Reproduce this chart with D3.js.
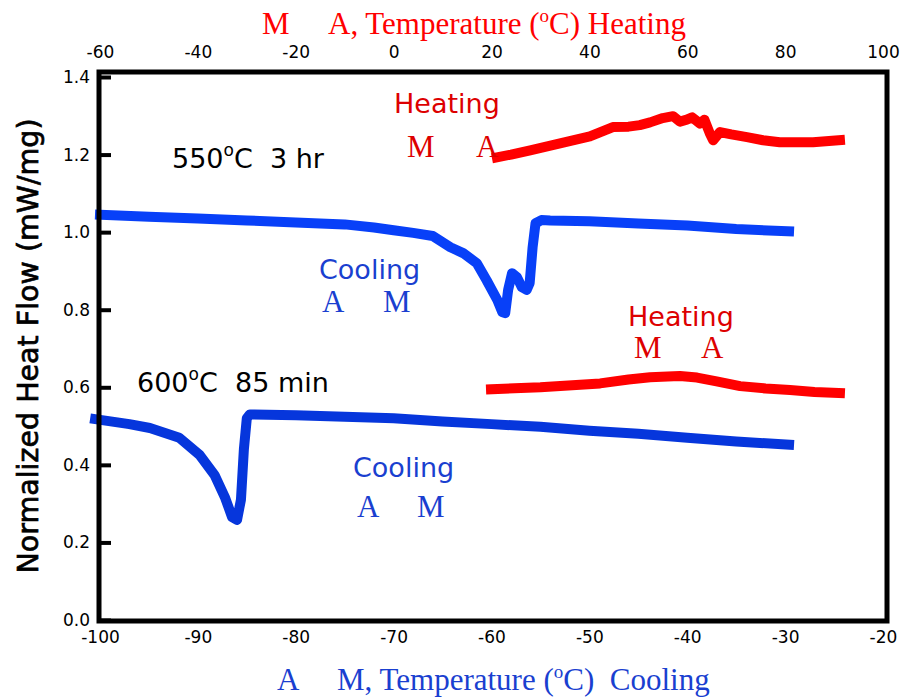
<!DOCTYPE html>
<html>
<head>
<meta charset="utf-8">
<script src="https://cdn.jsdelivr.net/npm/d3@7"></script>
<style>
  body { margin: 0; background: #fff; }
  .tick text { font-family: "DejaVu Sans", Verdana, sans-serif; font-size: 17px; fill: #000; }
  .sans { font-family: "DejaVu Sans", Verdana, sans-serif; }
  .serif { font-family: "Liberation Serif", "Times New Roman", serif; }
</style>
</head>
<body>
<svg id="chart_svg" width="913" height="699"></svg>
<script>
// cooling runs are read on the bottom axis, heating runs on the top axis
var cool550T = [-100, -95, -90, -85, -80, -75, -72, -70, -68, -66, -64.2, -62.9, -61.5, -60.5, -59.4, -58.9, -58.6, -58.3, -57.9, -57.4, -56.9, -56.4, -56.1, -55.8, -55.5, -54.9, -54, -50, -45, -40, -35, -29.6];
var cool550Q = [1.045, 1.04, 1.035, 1.03, 1.025, 1.02, 1.012, 1.005, 0.998, 0.99, 0.961, 0.946, 0.92, 0.876, 0.825, 0.794, 0.791, 0.851, 0.894, 0.884, 0.858, 0.851, 0.869, 0.961, 1.023, 1.031, 1.03, 1.028, 1.022, 1.017, 1.008, 1.002];

var heat550T = [21.1, 24, 27.9, 34, 40.1, 44.8, 48, 50.3, 52.4, 55, 57.1, 58.5, 59.9, 61, 62.6, 63.5, 64.6, 65.3, 66.7, 69, 72.2, 75.5, 78.9, 85.7, 91.2];
var heat550Q = [1.193, 1.2, 1.211, 1.229, 1.247, 1.271, 1.272, 1.276, 1.283, 1.294, 1.299, 1.285, 1.29, 1.296, 1.28, 1.29, 1.255, 1.237, 1.258, 1.252, 1.245, 1.237, 1.232, 1.232, 1.237];

var cool600T = [-100.5, -97, -94.9, -91.9, -89.8, -88.3, -87.2, -86.5, -86.0, -85.6, -85.3, -85.0, -84.7, -80, -75, -70, -65, -60, -55, -50, -45, -40, -35, -29.6];
var cool600Q = [0.518, 0.505, 0.495, 0.47, 0.425, 0.374, 0.314, 0.265, 0.258, 0.31, 0.44, 0.52, 0.53, 0.528, 0.524, 0.52, 0.512, 0.505, 0.498, 0.488, 0.48, 0.47, 0.46, 0.452];

var heat600T = [19.9, 30, 42.2, 48, 52.4, 56, 58.5, 62, 66, 70.8, 76, 81, 86, 91.2];
var heat600Q = [0.595, 0.6, 0.61, 0.62, 0.626, 0.628, 0.629, 0.625, 0.615, 0.603, 0.597, 0.593, 0.588, 0.585];

var bottomTicks = [-100, -90, -80, -70, -60, -50, -40, -30, -20];
var topTicks = [-60, -40, -20, 0, 20, 40, 60, 80, 100];
var yTicks = [0.0, 0.2, 0.4, 0.6, 0.8, 1.0, 1.2, 1.4];

var BLUE = "#0840f8";
var BLUE2 = "#0636dc";
var RED = "#ff0000";
var TXTRED = "#dd0000";
var TXTBLUE = "#1a3fd0";

var svg = d3.select("#chart_svg");

var xCool = d3.scaleLinear().domain([-100, -20]).range([100, 883]);
var xHeat = d3.scaleLinear().domain([-60, 100]).range([100, 883]);
var y = d3.scaleLinear().domain([0, 1.4]).range([620, 77]);

function zip(a, b) {
  return a.map(function (v, i) { return [v, b[i]]; });
}

function drawCurve(tArr, qArr, xs, color) {
  var line = d3.line().x(function (d) { return xs(d[0]); }).y(function (d) { return y(d[1]); });
  svg.append("path").datum(zip(tArr, qArr))
    .attr("d", line)
    .attr("fill", "none")
    .attr("stroke", color)
    .attr("stroke-width", 10)
    .attr("stroke-linejoin", "round")
    .attr("stroke-linecap", "square");
}

drawCurve(cool550T, cool550Q, xCool, BLUE);
drawCurve(heat550T, heat550Q, xHeat, RED);
drawCurve(cool600T, cool600Q, xCool, BLUE2);
drawCurve(heat600T, heat600Q, xHeat, RED);

// axes: only the left one carries tick marks, pointing inward
var fmt = function (d) { return d3.format("d")(d).replace("\u2212", "-"); };
var bottomAxis = svg.append("g").attr("transform", "translate(0,621)")
  .call(d3.axisBottom(xCool).tickValues(bottomTicks).tickSize(0).tickPadding(10).tickFormat(fmt));
var topAxis = svg.append("g").attr("transform", "translate(0,72)")
  .call(d3.axisTop(xHeat).tickValues(topTicks).tickSize(0).tickPadding(14).tickFormat(fmt));
var leftAxis = svg.append("g").attr("transform", "translate(99,0)")
  .call(d3.axisLeft(y).tickValues(yTicks).tickSize(-12).tickPadding(9).tickFormat(d3.format(".1f")));

[bottomAxis, topAxis, leftAxis].forEach(function (g) {
  g.select(".domain").remove();
});
leftAxis.selectAll(".tick line").attr("stroke", "#000").attr("stroke-width", 4);
bottomAxis.selectAll(".tick line").remove();
topAxis.selectAll(".tick line").remove();

// frame
svg.append("rect").attr("x", 99).attr("y", 72).attr("width", 788).attr("height", 549)
  .attr("fill", "none").attr("stroke", "#000").attr("stroke-width", 5);

// axis titles
var topTitle = svg.append("text").attr("class", "serif").attr("x", 262).attr("y", 34)
  .attr("font-size", 31).attr("fill", RED);
topTitle.append("tspan").text("M");
topTitle.append("tspan").attr("x", 328).text("A, Temperature (");
topTitle.append("tspan").attr("font-size", 19).attr("dy", -12).text("o");
topTitle.append("tspan").attr("dy", 12).text("C) Heating");

var botTitle = svg.append("text").attr("class", "serif").attr("x", 277).attr("y", 690)
  .attr("font-size", 31).attr("fill", TXTBLUE);
botTitle.append("tspan").text("A");
botTitle.append("tspan").attr("x", 337).text("M, Temperature (");
botTitle.append("tspan").attr("font-size", 19).attr("dy", -12).text("o");
botTitle.append("tspan").attr("dy", 12).text("C)\u00a0 Cooling");

svg.append("text").attr("class", "sans")
  .attr("transform", "translate(38,346) rotate(-90)")
  .attr("text-anchor", "middle").attr("font-size", 28.5).attr("fill", "#000")
  .attr("stroke", "#000").attr("stroke-width", 0.7)
  .text("Normalized Heat Flow (mW/mg)");

// annotations
function label(x, yy, txt, cls, size, color) {
  svg.append("text").attr("class", cls).attr("x", x).attr("y", yy)
    .attr("font-size", size).attr("fill", color).text(txt);
}
function condition(x, yy, temp, rest) {
  var t = svg.append("text").attr("class", "sans").attr("x", x).attr("y", yy)
    .attr("font-size", 27).attr("fill", "#000");
  t.append("tspan").text(temp);
  t.append("tspan").attr("font-size", 17).attr("dy", -12).text("o");
  t.append("tspan").attr("dy", 12).text("C\u00a0 " + rest);
}

label(394, 113, "Heating", "sans", 27, TXTRED);
label(407, 157, "M", "serif", 31, TXTRED);
label(476, 157, "A", "serif", 31, TXTRED);
condition(172, 168, "550", "3 hr");

label(319, 279, "Cooling", "sans", 27, TXTBLUE);
label(322, 312, "A", "serif", 31, TXTBLUE);
label(383, 312, "M", "serif", 31, TXTBLUE);

label(628, 326, "Heating", "sans", 27, TXTRED);
label(634, 358, "M", "serif", 31, TXTRED);
label(701, 358, "A", "serif", 31, TXTRED);
condition(137, 392, "600", "85 min");

label(353, 477, "Cooling", "sans", 27, TXTBLUE);
label(357, 517, "A", "serif", 31, TXTBLUE);
label(417, 517, "M", "serif", 31, TXTBLUE);
</script>
</body>
</html>
